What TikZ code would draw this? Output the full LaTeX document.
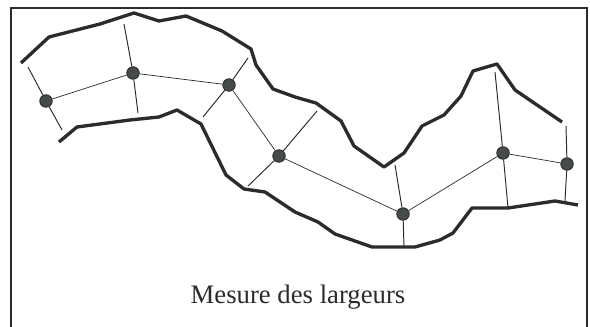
\documentclass[tikz,border=0pt]{standalone}
\usepackage{fontspec}
\setmainfont{Liberation Serif}
\definecolor{inkdark}{HTML}{2B2B2B}
\definecolor{dotgrey}{HTML}{454A4A}
\tikzset{
	point/.style={shape=circle,draw=inkdark,fill=dotgrey,line width=0.5pt,inner sep=0pt,minimum size=12.5*0.02cm},
	bank/.style={draw=inkdark,line width=1.9pt,line join=round},
	width line/.style={draw=inkdark,line width=0.55pt},
	axis line/.style={draw=inkdark,line width=0.4pt}
}
\begin{document}
\begin{tikzpicture}[x=0.02cm,y=-0.02cm]
	
	\useasboundingbox (0,0) rectangle (590,327);
	\draw[inkdark,line width=1.25pt] (11,327) -- (11,8) -- (587,8) -- (587,327);
	
	\node[point] (a) at (46, 101)  {};
	\node[point] (b) at (133, 73)  {};
	\node[point] (c) at (229, 85)  {};
	\node[point] (d) at (279, 156) {};
	\node[point] (e) at (403, 214) {};
	\node[point] (f) at (503, 153) {};
	\node[point] (g) at (567, 164) {};
	
	\coordinate (a1) at (28, 67);
	\coordinate (a2) at (62, 130);
	\coordinate (b1) at (124, 24);
	\coordinate (b2) at (138, 113);
	\coordinate (c1) at (248, 58);
	\coordinate (c2) at (203, 117);
	\coordinate (d1) at (317, 111);
	\coordinate (d2) at (248, 186);
	\coordinate (e1) at (395, 165);
	\coordinate (e2) at (404, 247);
	\coordinate (f1) at (495, 72);
	\coordinate (f2) at (508, 208);
	\coordinate (g1) at (566, 126);
	\coordinate (g2) at (565, 201);
	
	\path[axis line] (a) edge (b);
	\path[axis line] (b) edge (c);
	\path[axis line] (c) edge (d);
	\path[axis line] (d) edge (e);
	\path[axis line] (e) edge (f);
	\path[axis line] (f) edge (g);
	
	\path[width line] (a1) edge (a);
	\path[width line] (a) edge (a2);
	\path[width line] (b1) edge (b);
	\path[width line] (b) edge (b2);
	\path[width line] (c1) edge (c);
	\path[width line] (c) edge (c2);
	\path[width line] (d1) edge (d);
	\path[width line] (d) edge (d2);
	\path[width line] (e1) edge (e);
	\path[width line] (e) edge (e2);
	\path[width line] (f1) edge (f);
	\path[width line] (f) edge (f2);
	\path[width line] (g1) edge (g);
	\path[width line] (g) edge (g2);
	
	\draw[bank] (21,63) -- (49,37) -- (100,24) -- (134,13) -- (159,21) -- (186,16) -- (222,31)
		-- (251,49) -- (256,65) -- (273,89) -- (295,97) -- (316,103) -- (341,121) -- (354,146)
		-- (384,167) -- (404,153) -- (422,126) -- (444,115) -- (461,96) -- (473,71) -- (497,64)
		-- (515,90) -- (562,122);
	\draw[bank] (59,142) -- (77,127) -- (130,120) -- (159,117) -- (177,110) -- (201,124)
		-- (226,175) -- (244,189) -- (265,192) -- (295,212) -- (318,222) -- (335,234) -- (372,247)
		-- (415,247) -- (440,240) -- (453,233) -- (472,208) -- (508,208) -- (555,201) -- (578,205);
	
	\node[text=inkdark,font=\fontsize{15.2}{18}\selectfont] (title) at (298, 297) {Mesure des largeurs};
	
\end{tikzpicture}
\end{document}
